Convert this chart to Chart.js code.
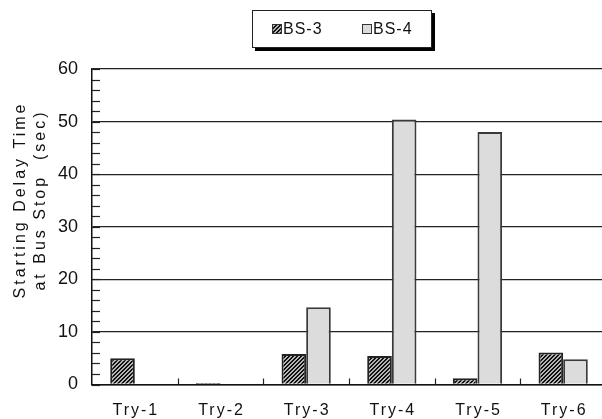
<!DOCTYPE html>
<html>
<head>
<meta charset="utf-8">
<script src="https://cdn.jsdelivr.net/npm/chart.js@4"></script>
<style>
  html, body { margin: 0; padding: 0; background: #fff; overflow: hidden; }
  #wrap { width: 606px; height: 419px; }
</style>
</head>
<body>
<div id="wrap"><canvas id="delayChart" width="606" height="419"></canvas></div>
<script>
const categories = ["Try-1", "Try-2", "Try-3", "Try-4", "Try-5", "Try-6"];
const bs3 = [5.0, 0.3, 5.8, 5.4, 1.2, 6.1];
const bs4 = [0, 0, 14.7, 50.4, 48.0, 4.8];
const seriesNames = ["BS-3", "BS-4"];
const yMax = 60;
const yStep = 10;
const yMinorStep = 2;
const yTitle = ["Starting Delay Time", "at Bus Stop  (sec)"];

// hatch fill for BS-3
function makeHatch() {
    const c = document.createElement("canvas");
    c.width = 4; c.height = 4;
    const g = c.getContext("2d");
    for (let x = 0; x < 4; x++) {
        for (let y = 0; y < 4; y++) {
            g.fillStyle = ((x + y) % 4 < 2) ? "#111" : "#b4b4b4";
            g.fillRect(x, y, 1, 1);
        }
    }
    return g.createPattern(c, "repeat");
}
const hatch = makeHatch();
const dots = "#dcdcdc";
const fills = [hatch, dots];

const spacedText = {
    id: "spacedText",
    afterDraw(chart) {
        const ctx = chart.ctx;
        const x = chart.scales.x;
        const y = chart.scales.y;
        const area = chart.chartArea;
        ctx.save();

        // minor ticks on the value axis, pointing into the plot
        ctx.strokeStyle = "#222";
        ctx.lineWidth = 1.2;
        for (let v = 0; v <= yMax; v += yMinorStep) {
            const py = Math.round(y.getPixelForValue(v)) + 0.5;
            ctx.beginPath();
            ctx.moveTo(area.left, py);
            ctx.lineTo(area.left + 8, py);
            ctx.stroke();
        }
        // separators between categories on the base line
        for (let i = 1; i < categories.length; i++) {
            const px = Math.round((x.getPixelForValue(i - 1) + x.getPixelForValue(i)) / 2) + 0.5;
            ctx.beginPath();
            ctx.moveTo(px, area.bottom);
            ctx.lineTo(px, area.bottom - 6);
            ctx.stroke();
        }

        // category labels
        ctx.fillStyle = "#111";
        ctx.font = "16px 'Liberation Sans'";
        ctx.letterSpacing = "2px";
        ctx.textAlign = "center";
        ctx.textBaseline = "middle";
        categories.forEach((c, i) => {
            ctx.fillText(c, x.getPixelForValue(i) + 1, 411);
        });

        // axis title
        ctx.save();
        ctx.translate(31, 201);
        ctx.rotate(-Math.PI / 2);
        ctx.font = "16px 'Liberation Sans'";
        ctx.letterSpacing = "3px";
        ctx.fillText(yTitle[0], 1, -10);
        ctx.fillText(yTitle[1], 1, 10);
        ctx.restore();

        // legend box
        ctx.fillStyle = "#000";
        ctx.fillRect(255, 13, 180, 38);
        ctx.fillStyle = "#fff";
        ctx.fillRect(252, 10, 180, 38);
        ctx.strokeStyle = "#222";
        ctx.lineWidth = 1;
        ctx.strokeRect(252.5, 10.5, 179, 37);
        const items = [{ sx: 272, tx: 283 }, { sx: 362, tx: 373 }];
        ctx.textAlign = "left";
        ctx.font = "16px 'Liberation Sans'";
        ctx.letterSpacing = "1px";
        items.forEach((it, k) => {
            ctx.fillStyle = fills[k];
            ctx.fillRect(it.sx, 24, 10, 10);
            ctx.strokeStyle = "#333";
            ctx.strokeRect(it.sx + 0.5, 24.5, 9, 9);
            ctx.fillStyle = "#111";
            ctx.fillText(seriesNames[k], it.tx, 30);
        });
        ctx.restore();
    }
};

new Chart(document.getElementById("delayChart"), {
    type: "bar",
    data: {
        labels: categories,
        datasets: [
            {
                label: seriesNames[0],
                data: bs3,
                backgroundColor: hatch,
                borderColor: "#222",
                borderWidth: 2,
                borderSkipped: "bottom"
            },
            {
                label: seriesNames[1],
                data: bs4,
                backgroundColor: dots,
                borderColor: "#3a3a3a",
                borderWidth: 2,
                borderSkipped: "bottom"
            }
        ]
    },
    options: {
        responsive: false,
        animation: false,
        layout: { padding: { top: 69, right: 0, bottom: 0, left: 0 } },
        datasets: { bar: { categoryPercentage: 0.575, barPercentage: 1 } },
        plugins: {
            legend: { display: false },
            tooltip: { enabled: false }
        },
        scales: {
            x: {
                grid: { display: false, drawTicks: false },
                border: { display: true, color: "#111", width: 1.5 },
                ticks: { display: false },
                afterFit: s => { s.height = 34.5; }
            },
            y: {
                min: 0,
                max: yMax,
                ticks: {
                    stepSize: yStep,
                    padding: 14,
                    color: "#111",
                    font: { family: "'Liberation Sans', Arial", size: 18 }
                },
                grid: { color: "#222", lineWidth: 1.3, drawTicks: false },
                border: { display: true, color: "#111", width: 1.5 },
                afterFit: s => { s.width = 92; }
            }
        }
    },
    plugins: [spacedText]
});
</script>
</body>
</html>
